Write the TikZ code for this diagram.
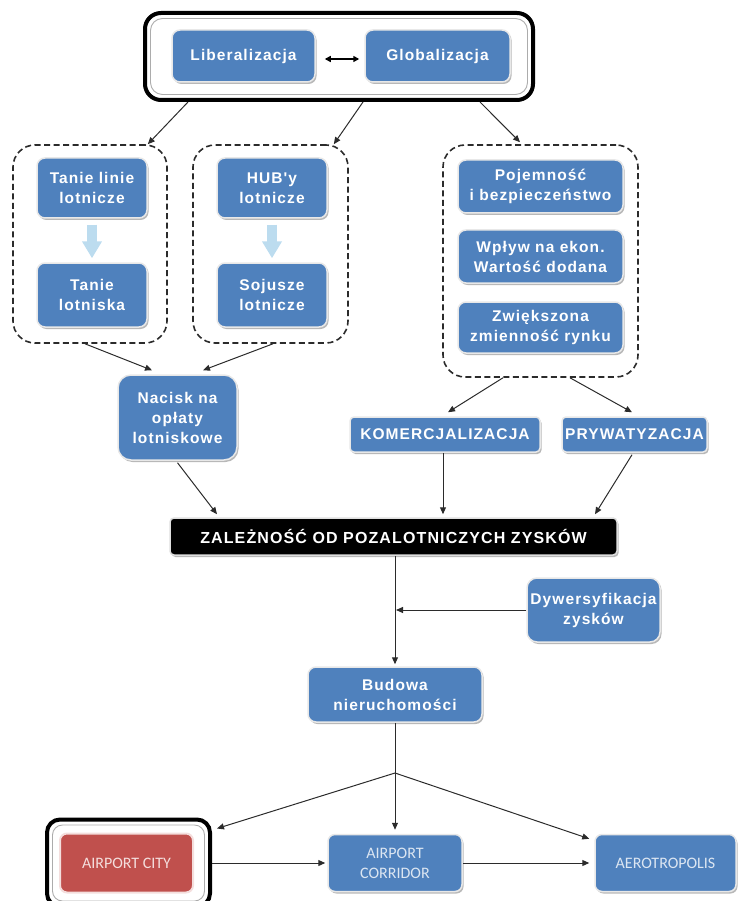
\documentclass[tikz,border=0pt]{standalone}
\usepackage{fontspec}
\setmainfont{Liberation Sans}
\newfontfamily\boxfont{Liberation Sans}[LetterSpace=7]
\newfontfamily\carl{Carlito}
\usetikzlibrary{arrows.meta,shadows,calc}
\definecolor{boxblue}{HTML}{4F81BD}
\definecolor{boxred}{HTML}{C0504D}
\definecolor{lineg}{HTML}{2B2B2B}
\definecolor{pale}{HTML}{BCDCEF}
\definecolor{pinkw}{HTML}{F4DEDD}
\definecolor{bluew}{HTML}{DCE6F2}
\tikzset{
  bbox/.style={rectangle, rounded corners=8pt, fill=boxblue, draw=gray!18, line width=1.5pt,
    text=white, font=\boxfont\bfseries\fontsize{15.5}{20}\selectfont, align=center, inner sep=0pt,
    drop shadow={shadow xshift=1.5pt, shadow yshift=-2pt, fill=black, opacity=0.28}},
  lbox/.style={rectangle, rounded corners=7pt, fill=boxblue, draw=gray!18, line width=1.5pt,
    text=bluew, font=\carl\fontsize{16}{20}\selectfont, align=center, inner sep=0pt,
    drop shadow={shadow xshift=1.5pt, shadow yshift=-2pt, fill=black, opacity=0.28}},
  rbox/.style={rectangle, rounded corners=7pt, fill=boxred, draw=pinkw, line width=2pt,
    text=pinkw, font=\carl\fontsize{16}{20}\selectfont, align=center, inner sep=0pt},
  kbox/.style={rectangle, rounded corners=4pt, fill=black, draw=gray!25, line width=1.5pt,
    text=white, font=\boxfont\bfseries\fontsize{16}{20}\selectfont, inner sep=0pt,
    drop shadow={shadow xshift=1.5pt, shadow yshift=-2pt, fill=black, opacity=0.28}},
  gbox/.style={rectangle, draw=lineg, line width=1.6pt, dash pattern=on 6pt off 3.5pt,
    rounded corners=22pt, inner sep=0pt},
  frameout/.style={rectangle, draw=black, line width=4pt, rounded corners=16pt, inner sep=0pt},
  framein/.style={rectangle, draw=gray!65, line width=0.9pt, rounded corners=12pt, inner sep=0pt},
  conn/.style={draw=lineg, line width=1pt, -{Triangle[length=7pt,width=6pt]}},
  plain/.style={draw=lineg, line width=1pt},
  blk/.style={draw=pale, line width=10pt, -{Triangle[length=17pt,width=19pt]},
    shorten <=6pt, shorten >=4pt},
}
\begin{document}
\begin{tikzpicture}[x=1pt,y=-1pt]
\useasboundingbox (0,0) rectangle (738,901);

% top frame
\node[frameout, minimum width=388pt, minimum height=87pt] (top) at (339,56.5) {};
\node[framein, minimum width=377pt, minimum height=76pt] (topin) at (339,56.5) {};
\node[bbox, minimum width=143pt, minimum height=52pt] (lib) at (243.5,56) {Liberalizacja};
\node[bbox, minimum width=145pt, minimum height=52pt] (glob) at (437.5,56) {Globalizacja};
\draw[draw=black, line width=1.5pt, {Triangle[length=6pt,width=6pt]}-{Triangle[length=6pt,width=6pt]},
  shorten <=9pt, shorten >=5pt] ([yshift=-3pt]lib.east) -- ([yshift=-3pt]glob.west);

% dashed groups
\node[gbox, minimum width=154pt, minimum height=198pt] (gl) at (90,244) {};
\node[gbox, minimum width=155pt, minimum height=198pt] (gm) at (270.5,244) {};
\node[gbox, minimum width=195pt, minimum height=232pt] (gr) at (540.5,261) {};

\node[bbox, minimum width=110pt, minimum height=60pt] (tl) at (92,188) {Tanie linie\\lotnicze};
\node[bbox, minimum width=110pt, minimum height=64pt] (tlo) at (92,295) {Tanie\\lotniska};
\node[bbox, minimum width=110pt, minimum height=60pt] (hub) at (272,188) {HUB'y\\lotnicze};
\node[bbox, minimum width=110pt, minimum height=64pt] (soj) at (272,295) {Sojusze\\lotnicze};
\draw[blk] (tl.south) -- (tlo.north);
\draw[blk] (hub.south) -- (soj.north);

\node[bbox, minimum width=165pt, minimum height=53pt] (poj) at (540.5,186.5) {Pojemność\\i bezpieczeństwo};
\node[bbox, minimum width=165pt, minimum height=53pt] (wpl) at (540.5,256.5) {Wpływ na ekon.\\Wartość dodana};
\node[bbox, minimum width=165pt, minimum height=51pt] (zwi) at (540.5,327.5) {Zwiększona\\zmienność rynku};

% arrows from top frame
\draw[conn] ([xshift=45pt]top.south west) -- ([xshift=-20pt]gl.north east);
\draw[conn] ([xshift=24pt]top.south) -- ([xshift=-15pt]gm.north east);
\draw[conn] ([xshift=-55pt]top.south east) -- ([xshift=-20.5pt,yshift=2pt]gr.north);

% middle level
\node[bbox, rounded corners=13pt, minimum width=119pt, minimum height=85pt] (nac) at (177.5,417.5) {Nacisk na\\opłaty\\lotniskowe};
\node[bbox, rounded corners=4pt, minimum width=190pt, minimum height=35pt] (kom) at (445,434.5) {KOMERCJALIZACJA};
\node[bbox, rounded corners=4pt, minimum width=145pt, minimum height=35pt] (pry) at (634.5,434.5) {PRYWATYZACJA};

\draw[conn] ([xshift=-5pt]gl.south) -- ([xshift=-25.5pt,yshift=4pt]nac.north);
\draw[conn] ([xshift=2.5pt]gm.south) -- ([xshift=25.5pt,yshift=4pt]nac.north);
\draw[conn] ([xshift=-37.5pt]gr.south) -- ([xshift=3pt,yshift=4pt]kom.north);
\draw[conn] ([xshift=29.5pt]gr.south) -- ([xshift=-2.5pt,yshift=4pt]pry.north);

\node[kbox, minimum width=447pt, minimum height=37pt] (zal) at (393.5,536.5) {ZALEŻNOŚĆ OD POZALOTNICZYCH ZYSKÓW};

\draw[conn] ([yshift=-2pt]nac.south) -- ([xshift=-176.5pt,yshift=3pt]zal.north);
\draw[conn] ([xshift=-2pt]kom.south) -- ([xshift=49.5pt,yshift=3pt]zal.north);
\draw[conn] ([xshift=-2.5pt,yshift=-2pt]pry.south) -- ([xshift=201.5pt,yshift=3pt]zal.north);

% lower part
\node[bbox, rounded corners=10pt, minimum width=133pt, minimum height=64pt] (dyw) at (593.5,610) {Dywersyfikacja\\zysków};
\node[bbox, minimum width=174pt, minimum height=55pt] (bud) at (395,694.5) {Budowa\\nieruchomości};
\draw[conn, shorten >=2pt] (bud.north |- zal.south) -- (bud.north);
\draw[conn] (dyw.west) -- ([xshift=1pt]bud.north |- dyw.west);

\coordinate (j) at (395,773);
\draw[plain] (bud.south) -- (j);

% bottom row
\node[frameout, rounded corners=13pt, minimum width=163pt, minimum height=87pt] (acf) at (128.5,863) {};
\node[framein, rounded corners=10pt, minimum width=152pt, minimum height=76pt] (acfin) at (128.5,863) {};
\node[rbox, minimum width=133pt, minimum height=59pt] (ac) at (126.5,863) {AIRPORT CITY};
\node[lbox, minimum width=134pt, minimum height=57pt] (cor) at (395,863) {AIRPORT\\CORRIDOR};
\node[lbox, minimum width=141pt, minimum height=57pt] (aer) at (665.5,863) {AEROTROPOLIS};

\draw[conn] (j) -- ([xshift=5pt,yshift=-11pt]acf.north east);
\draw[conn, shorten >=4pt] (j) -- (cor.north);
\draw[conn] (j) -- ([xshift=-5pt,yshift=-5pt]aer.north west);
\draw[conn, shorten >=2pt] (acf.east) -- (cor.west);
\draw[conn, shorten >=5pt] (cor.east) -- (aer.west);
\end{tikzpicture}
\end{document}
